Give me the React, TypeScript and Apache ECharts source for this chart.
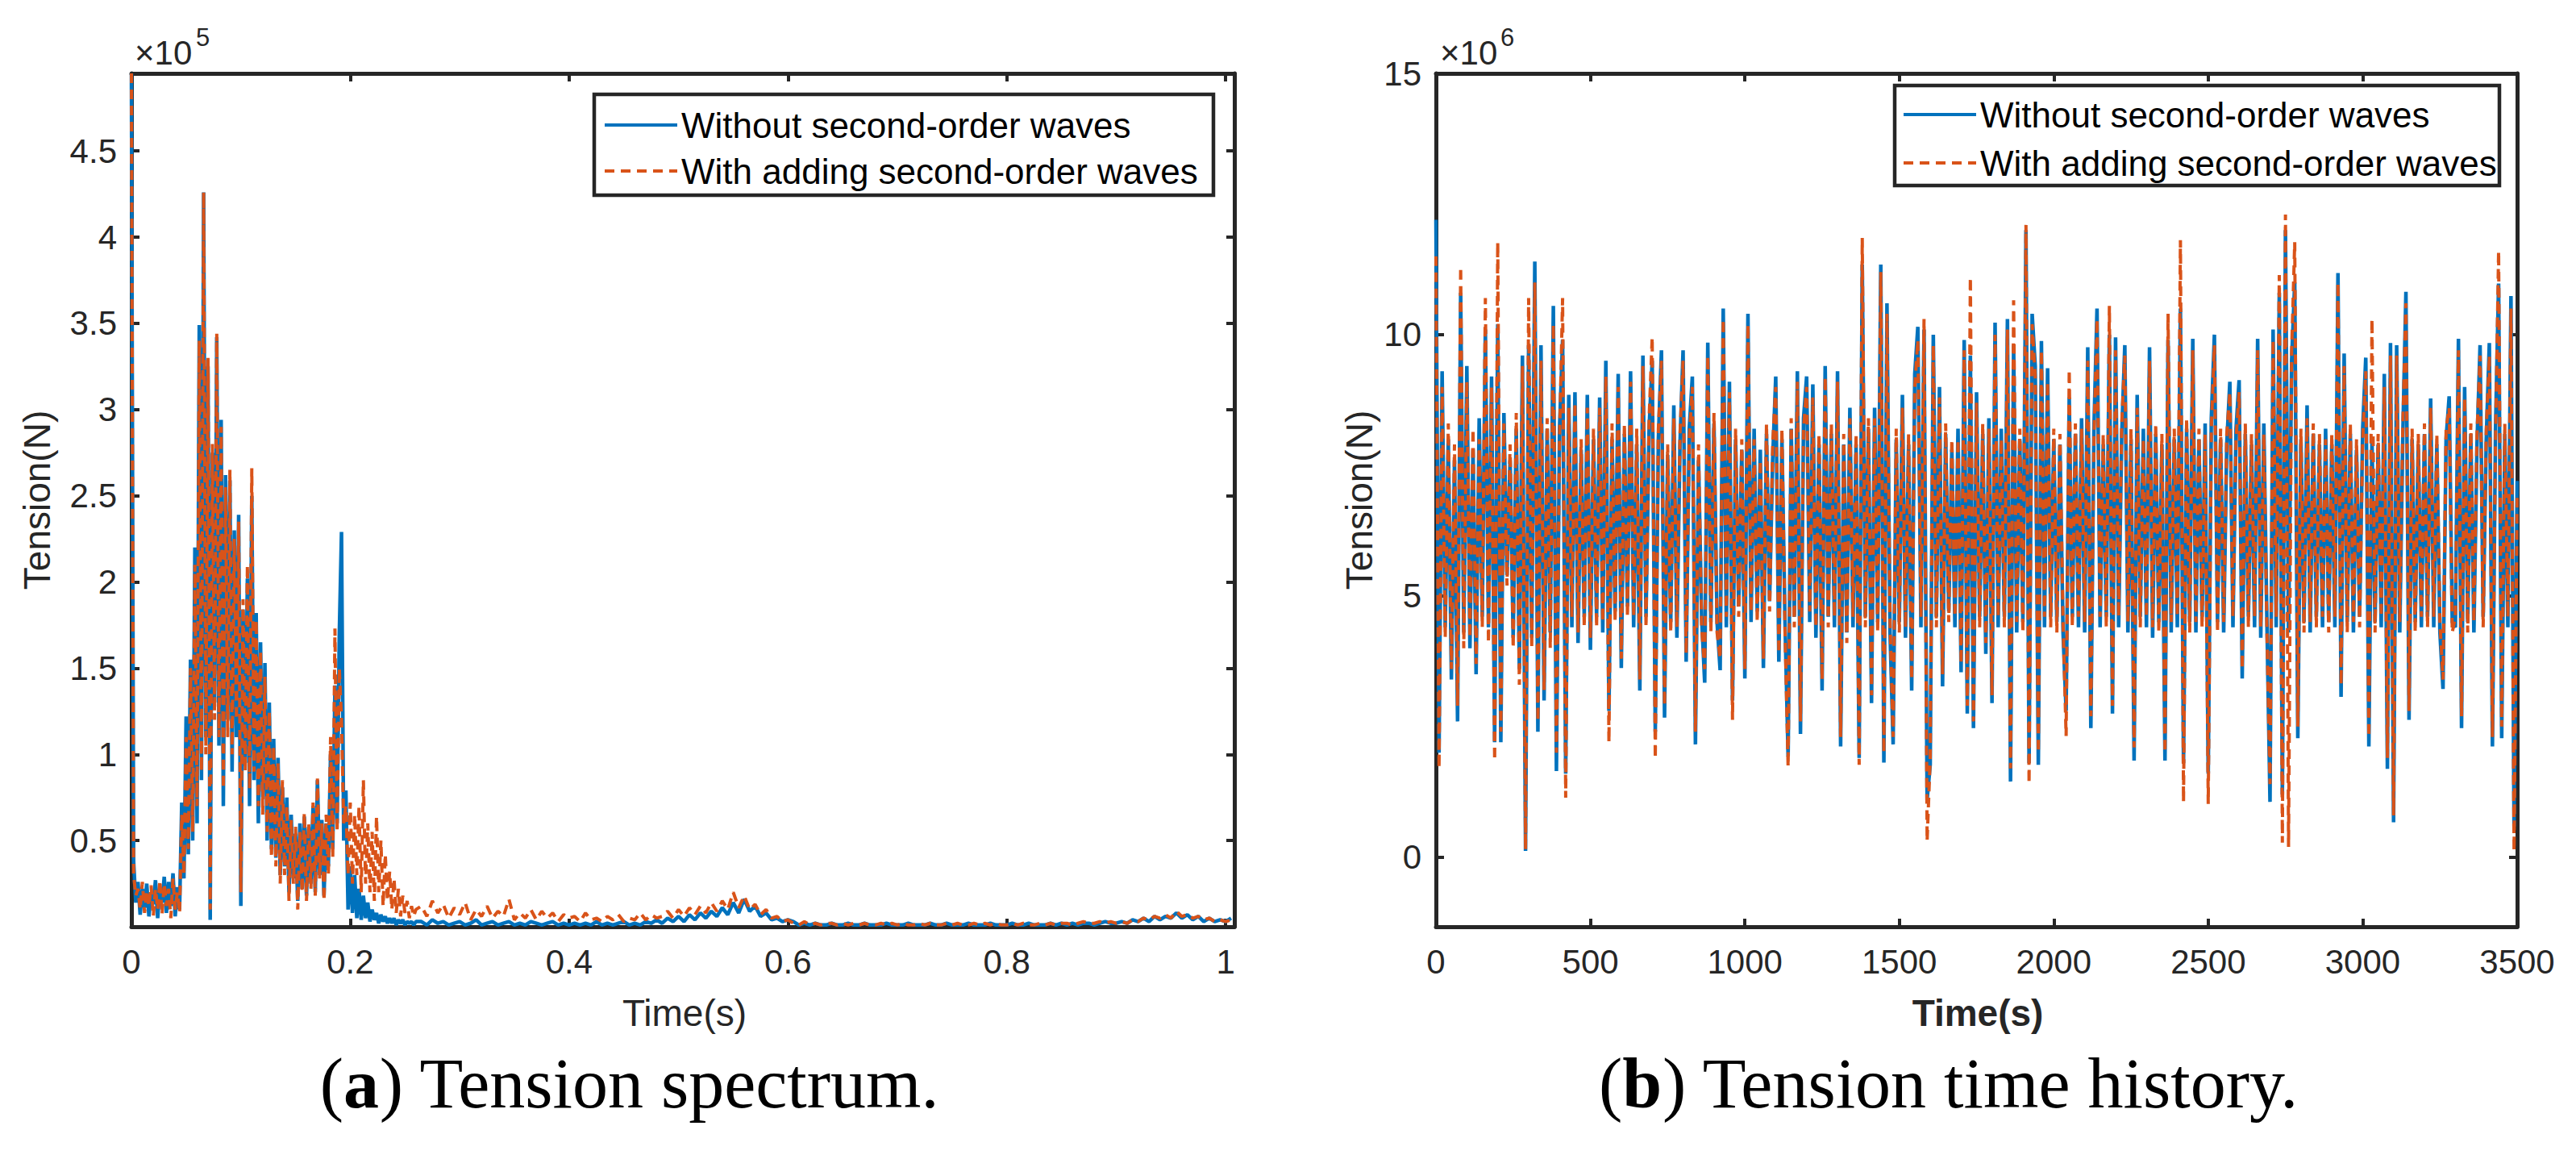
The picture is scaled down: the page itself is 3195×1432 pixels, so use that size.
import React, { useEffect, useRef } from 'react';
import * as echarts from 'echarts';

const BLUE = '#0072BD';
const ORANGE = '#D95319';
const INK = '#262626';
const SANS = '"Liberation Sans", Arial, Helvetica, sans-serif';
const SERIF = '"Liberation Serif", "Times New Roman", serif';

const NAME_A = 'Without second-order waves';
const NAME_B = 'With adding second-order waves';

// (a) tension spectrum, in 1e5 N. 0..0.26 s every 0.002 s, then from 0.265 s every 0.005 s
const specDenseStep = 0.002;
const specTailStart = 0.265;
const specTailStep = 0.005;

const specBlueDense = [
  4.95, 0.38, 0.14, 0.26, 0.07, 0.22, 0.11, 0.25, 0.06, 0.2,
  0.13, 0.27, 0.05, 0.23, 0.14, 0.29, 0.08, 0.26, 0.12, 0.31,
  0.06, 0.23, 0.1, 0.72, 0.28, 1.22, 0.42, 1.55, 0.5, 2.2,
  0.6, 3.49, 0.85, 4.26, 1.1, 3.25, 0.04, 2.75, 1.3, 3.42,
  1.05, 2.94, 0.7, 2.62, 1.2, 2.59, 0.9, 2.3, 1.1, 2.39,
  0.12, 1.84, 0.95, 2.02, 0.7, 2.5, 0.85, 1.82, 0.6, 1.65,
  0.75, 1.53, 0.5, 1.3, 0.45, 1.09, 0.4, 0.98, 0.3, 0.81,
  0.35, 0.75, 0.2, 0.65, 0.28, 0.54, 0.15, 0.6, 0.22, 0.64,
  0.18, 0.58, 0.25, 0.7, 0.2, 0.85, 0.3, 0.62, 0.18, 0.6,
  0.35, 1.0, 0.45, 1.4, 0.6, 1.7, 2.29, 0.5, 0.79, 0.1,
  0.35, 0.08, 0.3, 0.05, 0.22, 0.04, 0.18, 0.05, 0.14, 0.03,
  0.1, 0.04, 0.08, 0.02, 0.07, 0.03, 0.06, 0.02, 0.05, 0.02,
  0.05, 0.01, 0.04, 0.02, 0.04, 0.01, 0.03, 0.02, 0.03, 0.01, 0.03,
];

const specOrangeDense = [
  4.95, 0.3, 0.18, 0.22, 0.1, 0.26, 0.08, 0.21, 0.12, 0.24,
  0.06, 0.22, 0.1, 0.27, 0.07, 0.25, 0.12, 0.22, 0.05, 0.28,
  0.1, 0.2, 0.08, 0.65, 0.3, 1.1, 0.45, 1.5, 0.55, 2.1,
  0.7, 3.4, 0.9, 4.26, 1.0, 3.3, 0.1, 2.8, 1.2, 3.44,
  1.1, 2.9, 0.8, 2.55, 1.1, 2.65, 1.0, 2.25, 1.2, 2.35,
  0.2, 1.9, 0.9, 2.1, 0.8, 2.66, 0.9, 1.78, 0.7, 1.6,
  0.65, 1.45, 0.55, 1.25, 0.4, 1.05, 0.35, 0.95, 0.25, 0.85,
  0.3, 0.7, 0.15, 0.62, 0.25, 0.58, 0.1, 0.55, 0.2, 0.66,
  0.15, 0.6, 0.22, 0.72, 0.18, 0.86, 0.28, 0.6, 0.15, 0.65,
  0.3, 1.1, 0.4, 1.73, 0.55, 1.5, 1.2, 0.6, 0.7, 0.3,
  0.72, 0.25, 0.65, 0.3, 0.7, 0.2, 0.85, 0.25, 0.6, 0.2,
  0.55, 0.15, 0.64, 0.2, 0.5, 0.12, 0.42, 0.15, 0.32, 0.1,
  0.28, 0.08, 0.22, 0.06, 0.18, 0.08, 0.15, 0.05, 0.12, 0.06, 0.1,
];

const specBlueTail = [
  0.03, 0.01, 0.04, 0.02, 0.03, 0.01, 0.02, 0.03, 0.01, 0.02,
  0.04, 0.01, 0.02, 0.03, 0.01, 0.02, 0.03, 0.01, 0.02, 0.01,
  0.03, 0.02, 0.01, 0.02, 0.03, 0.01, 0.02, 0.01,
  0.02, 0.01, 0.02, 0.01, 0.03, 0.01, 0.02, 0.01, 0.02, 0.03,
  0.01, 0.02, 0.01, 0.03, 0.02, 0.04,
  0.02, 0.05, 0.03, 0.06, 0.03, 0.07, 0.04, 0.08, 0.05, 0.09, 0.06, 0.11,
  0.07, 0.14, 0.08, 0.16, 0.09, 0.12, 0.06, 0.08,
  0.04, 0.05, 0.03, 0.04,
  0.03, 0.01, 0.02, 0.01, 0.02, 0.01, 0.01, 0.02, 0.01, 0.01,
  0.02, 0.01, 0.01, 0.02, 0.01, 0.01, 0.01, 0.02, 0.01, 0.01,
  0.01, 0.02, 0.01, 0.01, 0.01, 0.02, 0.01, 0.01, 0.02, 0.01,
  0.01, 0.01, 0.02, 0.01, 0.01, 0.01, 0.02, 0.01, 0.01, 0.01,
  0.02, 0.01, 0.01, 0.02, 0.01, 0.01, 0.01, 0.02, 0.01, 0.02,
  0.01, 0.02, 0.01, 0.02, 0.02, 0.01, 0.02, 0.03, 0.02, 0.02,
  0.03, 0.02, 0.04, 0.03, 0.05, 0.03, 0.06, 0.04, 0.06, 0.05,
  0.08, 0.05, 0.07, 0.04, 0.06, 0.03, 0.05, 0.03, 0.04, 0.03, 0.05,
];

const specOrangeTail = [
  0.12, 0.06, 0.15, 0.08, 0.13, 0.05, 0.11, 0.07, 0.14, 0.04,
  0.1, 0.06, 0.12, 0.05, 0.09, 0.06, 0.16, 0.04, 0.08, 0.05,
  0.1, 0.04, 0.09, 0.05, 0.08, 0.03, 0.07, 0.05,
  0.06, 0.03, 0.08, 0.04, 0.05, 0.03, 0.06, 0.04, 0.07, 0.03,
  0.05, 0.04, 0.08, 0.04, 0.07, 0.05,
  0.06, 0.09, 0.05, 0.1, 0.06, 0.11, 0.07, 0.12, 0.08, 0.14, 0.09, 0.15,
  0.1, 0.2, 0.11, 0.18, 0.1, 0.13, 0.07, 0.1,
  0.05, 0.06, 0.03, 0.04,
  0.02, 0.01, 0.03, 0.01, 0.02, 0.01, 0.02, 0.02, 0.01, 0.02,
  0.01, 0.02, 0.01, 0.02, 0.01, 0.01, 0.02, 0.01, 0.02, 0.01,
  0.02, 0.01, 0.01, 0.02, 0.01, 0.02, 0.01, 0.01, 0.02, 0.01,
  0.02, 0.01, 0.01, 0.02, 0.01, 0.02, 0.01, 0.02, 0.01, 0.01,
  0.02, 0.01, 0.02, 0.01, 0.01, 0.02, 0.01, 0.02, 0.01, 0.02,
  0.02, 0.01, 0.02, 0.03, 0.02, 0.02, 0.03, 0.02, 0.03, 0.02,
  0.03, 0.02, 0.04, 0.03, 0.05, 0.04, 0.06, 0.05, 0.07, 0.05,
  0.09, 0.06, 0.07, 0.05, 0.06, 0.04, 0.05, 0.03, 0.04, 0.03, 0.04,
];

// (b) tension time history, in 1e6 N, one value every 10 s from 0 to 3500 s
const historyStep = 10;

const historyBlue = [
  12.2, 2.0, 9.3, 4.4, 8.0, 3.4, 7.6, 2.6, 10.8, 4.3,
  9.4, 4.0, 7.8, 3.5, 8.4, 4.6, 10.1, 4.4, 9.2, 2.2,
  10.2, 2.2, 8.5, 5.4, 7.6, 4.2, 8.2, 3.6, 9.6, 0.12,
  9.8, 4.2, 11.4, 2.4, 9.8, 3.0, 8.2, 4.3, 10.55, 1.65,
  8.2, 9.9, 1.6, 8.85, 4.4, 8.9, 4.1, 7.8, 4.6, 8.85,
  3.97, 8.0, 4.6, 8.8, 4.3, 9.5, 2.8, 8.0, 4.7, 9.25,
  3.62, 8.1, 4.8, 9.3, 4.4, 7.9, 3.19, 9.6, 4.6, 8.2,
  9.5, 2.4, 8.0, 9.7, 2.67, 7.7, 4.5, 8.65, 4.2, 7.9,
  9.7, 3.74, 8.2, 9.2, 2.16, 7.6, 4.6, 3.34, 9.85, 4.5,
  8.3, 4.5, 3.58, 10.5, 4.4, 9.1, 3.0, 8.0, 4.8, 7.8,
  3.42, 10.4, 4.5, 8.2, 4.7, 7.8, 3.62, 8.1, 4.9, 7.6,
  9.2, 3.74, 8.0, 4.5, 1.93, 8.2, 4.6, 9.3, 2.36, 8.4,
  9.2, 4.5, 9.05, 4.2, 7.9, 3.19, 9.4, 4.6, 8.1, 4.4,
  9.3, 2.12, 7.9, 4.3, 8.6, 4.4, 7.9, 1.9, 11.34, 4.6,
  8.2, 2.95, 8.6, 4.5, 11.34, 1.81, 10.6, 4.3, 2.16, 8.0,
  4.5, 8.85, 4.2, 7.9, 3.19, 9.25, 10.15, 4.4, 10.1, 1.1,
  1.77, 10.0, 4.6, 9.0, 3.27, 8.1, 4.7, 7.8, 4.4, 8.2,
  3.54, 9.9, 2.75, 9.6, 2.47, 8.9, 4.6, 8.1, 3.89, 8.4,
  2.95, 10.23, 4.4, 8.2, 4.6, 10.3, 1.45, 9.8, 4.3, 8.0,
  4.5, 12.0, 1.8, 10.4, 9.4, 1.77, 9.88, 4.4, 9.36, 4.6,
  8.0, 4.5, 7.9, 4.3, 2.8, 8.8, 4.6, 8.1, 4.4, 8.4,
  4.3, 9.76, 2.47, 8.2, 10.5, 4.4, 7.9, 4.6, 10.0, 2.75,
  9.95, 4.4, 8.1, 9.8, 4.3, 8.0, 1.85, 8.85, 4.6, 8.2,
  4.4, 9.76, 4.2, 8.1, 4.5, 7.9, 1.85, 9.9, 4.3, 8.0,
  4.4, 10.5, 1.8, 8.2, 4.5, 9.92, 4.3, 8.0, 4.6, 8.3,
  1.6, 8.4, 10.0, 4.5, 8.0, 4.3, 7.9, 9.1, 4.4, 8.2,
  9.13, 3.42, 8.1, 4.6, 7.9, 4.4, 9.92, 4.2, 8.3, 4.5,
  1.06, 10.1, 4.4, 10.8, 1.2, 12.0, 4.3, 9.5, 11.0, 2.28,
  8.0, 4.5, 8.65, 4.3, 8.1, 4.6, 7.9, 4.4, 8.2, 4.5,
  7.9, 4.4, 11.18, 3.07, 9.64, 4.5, 8.1, 4.3, 7.8, 4.6,
  8.2, 9.56, 2.12, 8.0, 4.5, 7.9, 4.4, 9.25, 1.69, 9.84,
  0.67, 9.8, 4.3, 8.1, 10.82, 2.63, 8.0, 4.5, 7.9, 4.4,
  8.1, 4.6, 8.78, 4.4, 7.9, 4.3, 3.22, 8.0, 8.82, 4.5,
  4.4, 9.92, 2.47, 9.0, 4.5, 8.1, 4.3, 7.9, 9.8, 4.6,
  8.0, 9.84, 2.12, 8.2, 10.98, 2.28, 8.1, 4.4, 10.74, 0.59,
  7.2,
];

const historyOrange = [
  11.5, 1.7, 9.0, 4.2, 8.3, 3.6, 7.9, 2.9, 11.3, 4.0,
  9.1, 4.2, 8.2, 3.7, 8.0, 4.4, 10.7, 4.1, 9.0, 1.85,
  11.77, 2.4, 8.3, 5.2, 7.9, 4.0, 8.5, 3.3, 9.4, 0.15,
  10.7, 4.0, 11.0, 2.6, 9.5, 3.2, 8.4, 4.0, 10.2, 2.0,
  8.0, 10.7, 1.14, 8.6, 4.6, 8.7, 4.3, 8.0, 4.4, 8.6,
  4.2, 8.2, 4.4, 8.6, 4.5, 9.2, 2.2, 8.3, 4.5, 9.0,
  3.8, 8.3, 4.6, 9.1, 4.6, 8.2, 3.4, 9.4, 4.4, 8.4,
  9.95, 1.89, 8.2, 9.5, 2.9, 7.9, 4.3, 8.4, 4.4, 8.1,
  9.5, 3.9, 8.0, 9.0, 2.4, 7.9, 4.4, 3.6, 9.6, 4.3,
  8.5, 4.3, 3.8, 10.3, 4.6, 8.9, 2.63, 8.2, 4.6, 8.0,
  3.6, 10.2, 4.7, 8.0, 4.5, 7.6, 3.8, 8.3, 4.7, 7.9,
  9.0, 3.9, 8.2, 4.3, 1.73, 8.4, 4.4, 9.1, 2.6, 8.2,
  9.0, 4.7, 8.8, 4.4, 8.1, 3.4, 9.2, 4.4, 8.3, 4.6,
  9.1, 2.3, 8.1, 4.1, 8.4, 4.6, 8.1, 1.77, 11.85, 4.4,
  8.4, 3.1, 8.4, 4.3, 11.2, 2.0, 10.4, 4.5, 2.3, 8.2,
  4.3, 8.6, 4.4, 8.1, 3.4, 9.0, 9.9, 4.6, 10.3, 0.31,
  1.9, 9.8, 4.4, 8.8, 3.5, 8.3, 4.5, 8.0, 4.6, 8.0,
  3.7, 9.7, 2.9, 11.1, 2.6, 8.7, 4.4, 8.3, 4.1, 8.2,
  3.1, 10.0, 4.6, 8.0, 4.4, 10.1, 1.7, 10.66, 4.5, 8.2,
  4.3, 12.1, 1.41, 10.2, 9.2, 2.0, 9.7, 4.6, 9.1, 4.4,
  8.2, 4.3, 8.1, 4.5, 2.32, 9.33, 4.4, 8.3, 4.6, 8.2,
  4.5, 9.5, 2.7, 8.0, 10.3, 4.6, 8.1, 4.4, 10.55, 2.9,
  9.7, 4.6, 8.3, 9.6, 4.5, 8.2, 2.1, 8.6, 4.4, 8.0,
  4.6, 9.5, 4.4, 8.3, 4.3, 8.1, 2.0, 10.4, 4.5, 8.2,
  4.6, 11.81, 1.06, 8.4, 4.3, 9.7, 4.5, 8.2, 4.4, 8.1,
  1.02, 8.2, 9.8, 4.3, 8.2, 4.5, 8.1, 8.9, 4.6, 8.0,
  8.9, 3.6, 8.3, 4.4, 8.1, 4.6, 9.7, 4.4, 8.1, 4.3,
  1.4, 9.9, 4.6, 11.14, 0.28, 12.3, 0.2, 9.7, 11.77, 2.5,
  8.2, 4.3, 8.4, 4.5, 8.3, 4.4, 8.1, 4.6, 8.0, 4.3,
  8.1, 4.6, 11.0, 3.3, 9.4, 4.3, 8.3, 4.5, 8.0, 4.4,
  8.0, 9.3, 2.3, 10.3, 4.3, 8.1, 4.6, 9.0, 1.9, 9.6,
  0.8, 9.6, 4.5, 8.3, 10.6, 2.8, 8.2, 4.3, 8.1, 4.6,
  8.3, 4.4, 8.6, 4.6, 8.1, 4.5, 3.4, 8.2, 8.6, 4.3,
  4.6, 9.7, 2.7, 8.8, 4.3, 8.3, 4.5, 8.1, 9.6, 4.4,
  8.2, 9.6, 2.3, 8.0, 11.6, 2.5, 8.3, 4.6, 10.5, 0.12,
  7.0,
];

const specXTicks = [0, 0.2, 0.4, 0.6, 0.8, 1];
const specYTicks = [0.5, 1, 1.5, 2, 2.5, 3, 3.5, 4, 4.5];
const historyXTicks = [0, 500, 1000, 1500, 2000, 2500, 3000, 3500];
const historyYTicks = [0, 5, 10, 15];

const specPairs = (dense: number[], tail: number[]) => [
  ...dense.map((v, i) => [+(i * specDenseStep).toFixed(4), v]),
  ...tail.map((v, i) => [+(specTailStart + i * specTailStep).toFixed(4), v]),
];
const historyPairs = (vals: number[]) => vals.map((v, i) => [i * historyStep, v]);

const frameLine = { show: true, onZero: false, lineStyle: { color: INK, width: 5 } };
const tickStyle = (values: number[]) => ({
  show: true,
  inside: true,
  length: 10,
  customValues: values,
  lineStyle: { color: INK, width: 4 },
});
const labelStyle = (values: number[], margin: number) => ({
  customValues: values,
  margin,
  color: INK,
  fontSize: 42,
  fontFamily: SANS,
  formatter: (v: number) => String(v),
});

function axisPair(kind: 'x' | 'y', grid: number, min: number, max: number, ticks: number[], labels: number[]) {
  const main = kind === 'x' ? 'bottom' : 'left';
  const mirror = kind === 'x' ? 'top' : 'right';
  return [
    {
      type: 'value', gridIndex: grid, min, max, position: main,
      axisLine: frameLine, axisTick: tickStyle(ticks),
      axisLabel: labelStyle(labels, kind === 'x' ? 22 : 18),
      splitLine: { show: false },
    },
    {
      type: 'value', gridIndex: grid, min, max, position: mirror,
      axisLine: frameLine, axisTick: tickStyle(ticks),
      axisLabel: { show: false },
      splitLine: { show: false },
    },
  ];
}

const text = (x: number, y: number, t: string, size: number, extra: any = {}) => ({
  type: 'text',
  x,
  y,
  silent: true,
  ...extra,
  style: {
    text: t,
    fontSize: size,
    fontFamily: SANS,
    fill: INK,
    align: 'center',
    verticalAlign: 'middle',
    ...(extra.style || {}),
  },
});

function legendAt(left: number, top: number, gap: number) {
  return {
    orient: 'vertical',
    left,
    top,
    padding: 0,
    itemGap: gap,
    itemWidth: 90,
    itemHeight: 20,
    z: 20,
    selectedMode: false,
    itemStyle: { opacity: 0 },
    lineStyle: { width: 4 },
    data: [NAME_A, NAME_B],
    textStyle: { fontSize: 44, lineHeight: 44, fontFamily: SANS, color: '#000' },
  };
}

function lineSeries(name: string, x: number, y: number, data: number[][], color: string, dashed: boolean) {
  return {
    name,
    type: 'line',
    xAxisIndex: x,
    yAxisIndex: y,
    data,
    symbol: 'none',
    showSymbol: false,
    silent: true,
    clip: true,
    z: dashed ? 3 : 2,
    itemStyle: { color },
    lineStyle: dashed ? { color, width: 4, type: [12, 8] } : { color, width: 4.5 },
  };
}

export default function App() {
  const ref = useRef<HTMLDivElement>(null);

  useEffect(() => {
    if (!ref.current) return;
    const chart = echarts.init(ref.current, null, { renderer: 'svg' });

    chart.setOption({
      animation: false,
      backgroundColor: '#fff',
      grid: [
        { left: 163, top: 91, width: 1368, height: 1058 },
        { left: 1781, top: 91, width: 1341, height: 1058 },
      ],
      xAxis: [
        ...axisPair('x', 0, 0, 1.008, specXTicks, specXTicks),
        ...axisPair('x', 1, 0, 3500, historyXTicks, historyXTicks),
      ],
      yAxis: [
        ...axisPair('y', 0, 0, 4.95, specYTicks, specYTicks),
        ...axisPair('y', 1, -1.33, 15, historyYTicks, historyYTicks),
      ],
      legend: [legendAt(748, 133, 13), legendAt(2359, 120, 16)],
      series: [
        lineSeries(NAME_A, 0, 0, specPairs(specBlueDense, specBlueTail), BLUE, false),
        lineSeries(NAME_B, 0, 0, specPairs(specOrangeDense, specOrangeTail), ORANGE, true),
        lineSeries(NAME_A, 2, 2, historyPairs(historyBlue), BLUE, false),
        lineSeries(NAME_B, 2, 2, historyPairs(historyOrange), ORANGE, true),
      ],
      graphic: [
        // legend frames
        {
          type: 'rect', z: 10, silent: true,
          shape: { x: 737, y: 117, width: 768, height: 125 },
          style: { fill: '#fff', stroke: INK, lineWidth: 4.5 },
        },
        {
          type: 'rect', z: 10, silent: true,
          shape: { x: 2350, y: 106, width: 750, height: 124 },
          style: { fill: '#fff', stroke: INK, lineWidth: 4.5 },
        },
        // exponent labels
        text(167, 65, '×10', 42, { style: { align: 'left' } }),
        text(243, 46, '5', 31, { style: { align: 'left' } }),
        text(1786, 65, '×10', 42, { style: { align: 'left' } }),
        text(1861, 46, '6', 31, { style: { align: 'left' } }),
        // axis names
        text(46, 620, 'Tension(N)', 46, { rotation: Math.PI / 2 }),
        text(1686, 620, 'Tension(N)', 46, { rotation: Math.PI / 2 }),
        text(849, 1256, 'Time(s)', 46),
        text(2453, 1256, 'Time(s)', 46, { style: { fontWeight: 'bold' } }),
        // captions
        text(781, 1343, '({b|a}) Tension spectrum.', 88, {
          style: {
            fontFamily: SERIF, fill: '#000',
            rich: { b: { fontFamily: SERIF, fontSize: 88, fontWeight: 'bold', fill: '#000' } },
          },
        }),
        text(2417, 1343, '({b|b}) Tension time history.', 88, {
          style: {
            fontFamily: SERIF, fill: '#000',
            rich: { b: { fontFamily: SERIF, fontSize: 88, fontWeight: 'bold', fill: '#000' } },
          },
        }),
      ],
    });

    return () => {
      chart.dispose();
    };
  }, []);

  return (
    <div
      ref={ref}
      style={{ position: 'absolute', left: 0, top: 0, width: 3195, height: 1432, background: '#fff' }}
    />
  );
}
